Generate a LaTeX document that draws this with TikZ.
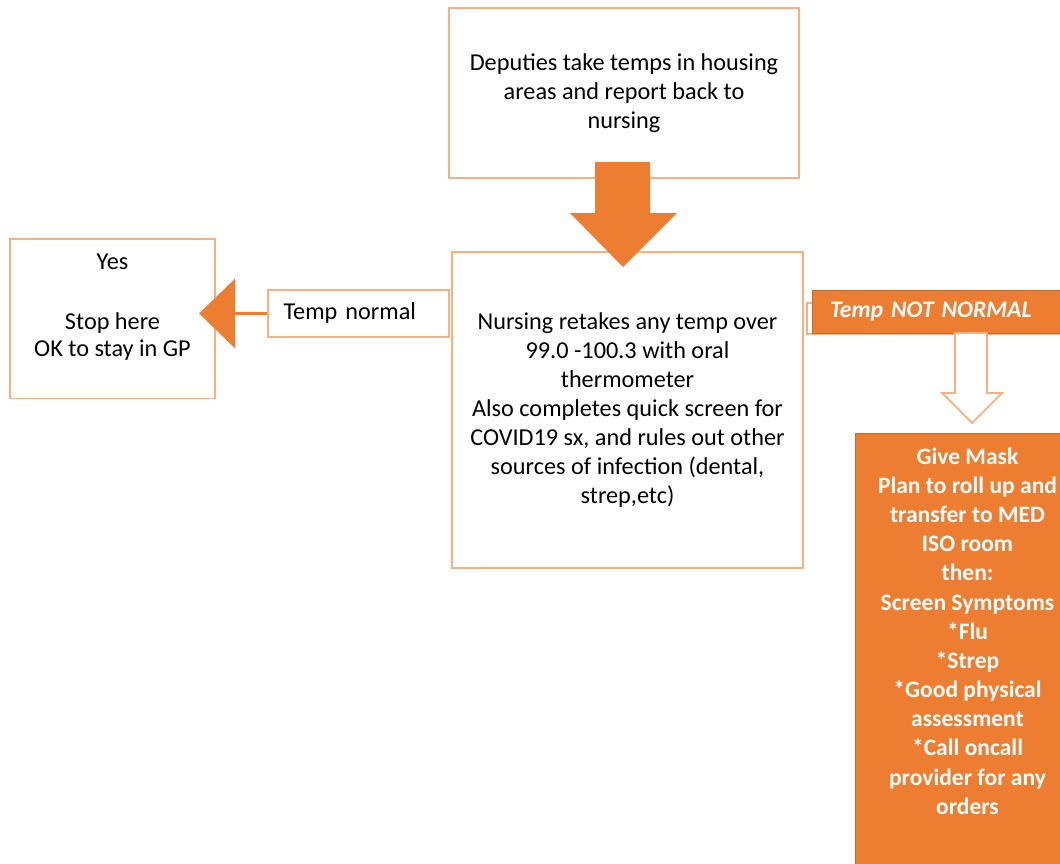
\documentclass[tikz,border=0pt]{standalone}
\usepackage{fontspec}
\setmainfont{Carlito}
\usetikzlibrary{positioning, calc}
\definecolor{accent}{HTML}{ED7D31}
\definecolor{lightaccent}{HTML}{F4B183}
\tikzset{
  box/.style = {draw=lightaccent, line width=1pt, align=center, font=\fontsize{13.8}{16.5}\selectfont},
  filledbox/.style = {fill=accent, draw=accent!85!black, line width=0.4pt, text=white, align=center, font=\bfseries\fontsize{13.4}{16.6}\selectfont}
}

\begin{document}
\begin{tikzpicture}

  \useasboundingbox (0,0) rectangle (21.2,-17.26);

  %% Boxes
  \node[box, minimum width=7cm, minimum height=3.4cm] (deputies) at (12.48,-1.86)
    {Deputies take temps in housing\\areas and report back to\\nursing};
  \node[box, minimum width=7.02cm, minimum height=6.32cm] (nursing) at (12.55,-8.2)
    {Nursing retakes any temp over\\99.0 -100.3 with oral\\thermometer\\Also completes quick screen for\\COVID19 sx, and rules out other\\sources of infection (dental,\\strep,etc)};
  \node[box, anchor=north, minimum width=4.1cm, text height=2.24cm, text depth=0.72cm,
    font=\fontsize{13.8}{15.4}\selectfont] (yes) at (2.25,-4.76)
    {Yes\\[19pt]Stop here\\OK to stay in GP};

  % Labels
  \node[box, minimum width=3.62cm, minimum height=0.94cm, text width=3.0cm, align=left] (normal) at (7.17,-6.27)
    {Temp normal};
  \node[draw=lightaccent, line width=0.8pt, minimum width=5.46cm, minimum height=0.62cm] (notnormalbg) at (18.87,-6.37) {};
  \node[filledbox, minimum width=5.36cm, minimum height=0.86cm, text width=4.64cm, align=left,
    font=\bfseries\itshape\fontsize{13.5}{16}\selectfont] (notnormal) at (18.92,-6.23)
    {Temp NOT NORMAL};

  % Orange action box
  \node[filledbox, anchor=north, minimum width=4.5cm, text height=7.5cm, text depth=1.19cm] (mask) at (19.35,-8.66)
    {Give Mask\\Plan to roll up and\\transfer to MED\\ISO room\\then:\\Screen Symptoms\\*Flu\\*Strep\\*Good physical\\assessment\\*Call oncall\\provider for any\\orders};

  %% Arrows
  % Down | deputies to nursing
  \fill[accent] (11.9,-3.24) -- (13.0,-3.24) -- (13.0,-4.26) -- (13.54,-4.26)
    -- (12.46,-5.34) -- (11.4,-4.26) -- (11.9,-4.26) -- cycle;

  % Left | normal to yes
  \draw[accent, line width=1.7pt] (normal.west) -- ++(-0.64,0) coordinate (base);
  \fill[accent] ($(base)+(0,0.7)$) -- ($(base)+(0,-0.7)$) -- ($(base)+(-0.72,0)$) -- cycle;

  % Down | not normal to mask
  \draw[lightaccent, line width=1pt, fill=white] (19.1,-6.66) -- (19.74,-6.66) -- (19.74,-7.86)
    -- (20.04,-7.86) -- (19.44,-8.46) -- (18.84,-7.86) -- (19.1,-7.86) -- cycle;

\end{tikzpicture}
\end{document}
